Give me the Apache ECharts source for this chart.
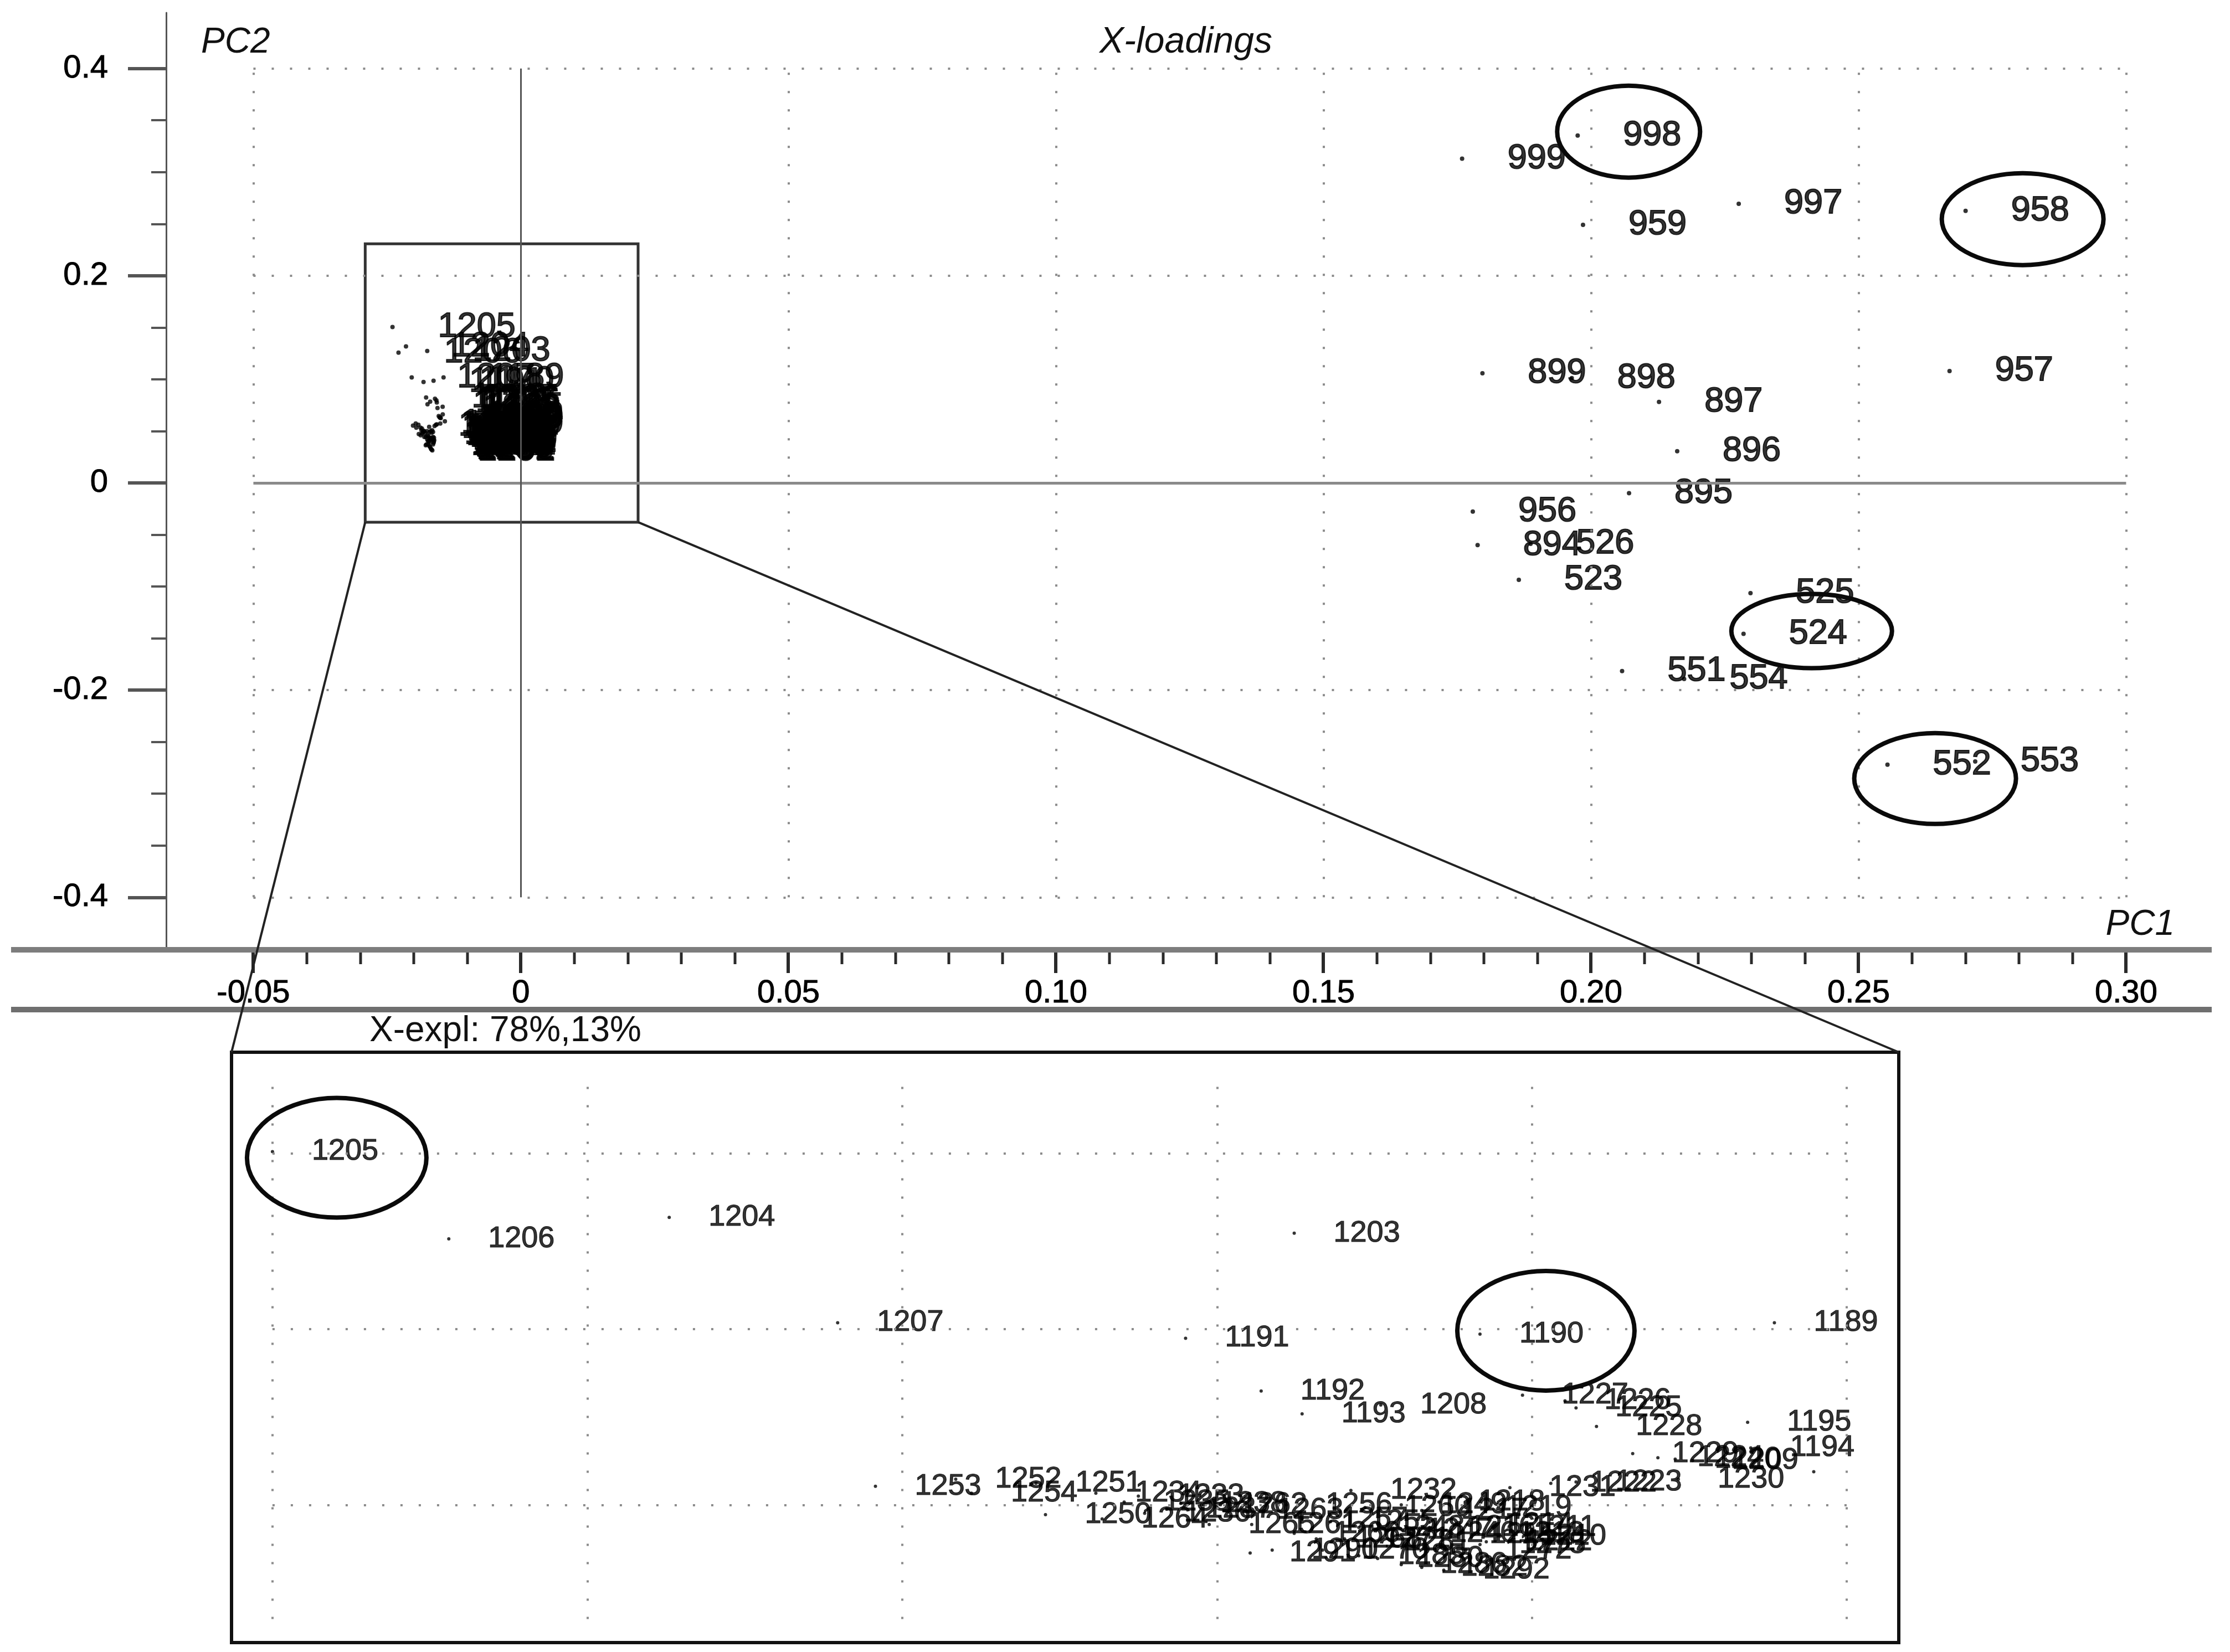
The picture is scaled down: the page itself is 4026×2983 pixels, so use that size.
<!DOCTYPE html>
<html>
<head>
<meta charset="utf-8">
<title>X-loadings</title>
<script src="https://cdn.jsdelivr.net/npm/echarts@6/dist/echarts.min.js"></script>
<style>
  html, body { margin: 0; padding: 0; background: #fff; }
  #chart { width: 4026px; height: 2983px; }
</style>
</head>
<body>
<div id="chart"></div>
<script>
// loadings of the outlying variables (PC1, PC2)
const farNames = ['999', '998', '997', '959', '958', '899', '898', '897', '896', '957', '895',
  '956', '894', '526', '523', '525', '524', '551', '554', '552', '553']
const farPC1 = [0.1759, 0.1975, 0.2276, 0.1985, 0.2700, 0.1797, 0.1964, 0.2127, 0.2161, 0.2670, 0.2071,
  0.1779, 0.1788, 0.1887, 0.1865, 0.2298, 0.2285, 0.2058, 0.2174, 0.2554, 0.2718]
const farPC2 = [0.3129, 0.3353, 0.2694, 0.2491, 0.2626, 0.1058, 0.1012, 0.0782, 0.0306, 0.1080, -0.0099,
  -0.0277, -0.0600, -0.0588, -0.0935, -0.1064, -0.1456, -0.1816, -0.1892, -0.2720, -0.2688]

// variables 1189-1292, the group that is shown again in the zoomed panel
const nearNames = ['1205', '1206', '1204', '1207', '1191', '1203', '1190', '1189',
  '1192', '1193', '1208', '1227', '1226', '1225', '1228',
  '1229', '1224', '1220', '1209', '1195', '1194', '1196',
  '1230', '1223', '1222', '1231', '1219', '1218', '1217',
  '1253', '1252', '1254', '1251', '1234', '1233', '1235',
  '1250', '1264', '1236', '1237', '1238',
  '1262', '1263', '1265', '1261', '1256', '1257',
  '1232', '1260', '1255', '1249', '1248', '1247', '1246',
  '1216', '1215', '1214', '1213', '1212', '1211', '1210',
  '1291', '1290', '1270', '1271', '1285', '1280', '1286', '1282', '1292',
  '1272', '1275', '1281', '1266', '1268']
const nearPC1 = [-0.0240, -0.02288, -0.02148, -0.02041, -0.01820, -0.01751, -0.01633, -0.01446,
  -0.01772, -0.01746, -0.01696, -0.01606, -0.01579, -0.01572, -0.01559,
  -0.01536, -0.01520, -0.01509, -0.01498, -0.01463, -0.01461, -0.01421,
  -0.01507, -0.01572, -0.01588, -0.01614, -0.01642, -0.01659, -0.01670,
  -0.02017, -0.01966, -0.01956, -0.01915, -0.01877, -0.01850, -0.01859,
  -0.01909, -0.01873, -0.01846, -0.01832, -0.01823,
  -0.01810, -0.01787, -0.01805, -0.01778, -0.01756, -0.01746,
  -0.01715, -0.01706, -0.01728, -0.01683, -0.01710, -0.01692, -0.01677,
  -0.01665, -0.01652, -0.01641, -0.01634, -0.01629, -0.01625, -0.01620,
  -0.01779, -0.01765, -0.01733, -0.01719, -0.01710, -0.01698, -0.01683, -0.01670, -0.01656,
  -0.01642, -0.01633, -0.01706, -0.01751, -0.01737]
const nearPC2 = [0.1505, 0.1257, 0.1318, 0.1018, 0.0974, 0.1273, 0.0986, 0.1018,
  0.0824, 0.0759, 0.0784, 0.0812, 0.0796, 0.0776, 0.0723,
  0.0646, 0.0634, 0.0630, 0.0626, 0.0735, 0.0662, 0.0594,
  0.0573, 0.0565, 0.0561, 0.0549, 0.0492, 0.0508, 0.0484,
  0.0553, 0.0573, 0.0533, 0.0561, 0.0533, 0.0525, 0.0508,
  0.0472, 0.0460, 0.0476, 0.0488, 0.0504,
  0.0500, 0.0484, 0.0444, 0.0444, 0.0500, 0.0460,
  0.0541, 0.0492, 0.0452, 0.0500, 0.0436, 0.0428, 0.0419,
  0.0436, 0.0415, 0.0444, 0.0419, 0.0395, 0.0436, 0.0411,
  0.0363, 0.0371, 0.0371, 0.0403, 0.0355, 0.0347, 0.0330, 0.0322, 0.0314,
  0.0371, 0.0387, 0.0395, 0.0419, 0.0403]
const unlabeled = ['1196']

// axes
const xMajor = [-0.05, 0, 0.05, 0.10, 0.15, 0.20, 0.25, 0.30]
const xMinor = [-0.04, -0.03, -0.02, -0.01, 0.01, 0.02, 0.03, 0.04, 0.06, 0.07, 0.08, 0.09,
  0.11, 0.12, 0.13, 0.14, 0.16, 0.17, 0.18, 0.19, 0.21, 0.22, 0.23, 0.24, 0.26, 0.27, 0.28, 0.29]
const yMajor = [-0.4, -0.2, 0, 0.2, 0.4]
const yMinor = [-0.35, -0.3, -0.25, -0.15, -0.1, -0.05, 0.05, 0.1, 0.15, 0.25, 0.3, 0.35]
const gridX = [-0.05, 0.05, 0.10, 0.15, 0.20, 0.25, 0.30]
const gridY = [-0.4, -0.2, 0.2, 0.4]
const insetGridX = [-0.024, -0.022, -0.020, -0.018, -0.016, -0.014]
const insetGridY = [0.05, 0.10, 0.15]

// region marked on the main plot, and the circled variables
const zoomBox = [[-0.0291, 0.2308], [0.0219, -0.0379]]
const circled = [
  { grid: 0, name: '998', dx: 92, dy: -7, rx: 129, ry: 83 },
  { grid: 0, name: '958', dx: 103, dy: 15, rx: 146, ry: 83 },
  { grid: 0, name: '524', dx: 123, dy: -5, rx: 145, ry: 67 },
  { grid: 0, name: '552', dx: 86, dy: 25, rx: 146, ry: 82 },
  { grid: 1, name: '1205', dx: 116, dy: 11, rx: 162, ry: 108 },
  { grid: 1, name: '1190', dx: 119, dy: -6, rx: 160, ry: 108 }
]

const FONT = '"Liberation Sans", Arial, sans-serif'
const INK = '#000'
const X_MIN = -0.0663, X_MAX = 0.3160, Y_MIN = -0.4506, Y_MAX = 0.4538

const farData = farNames.map((n, i) => [farPC1[i], farPC2[i], n])
const nearData = nearNames.map((n, i) => {
  const item = { value: [nearPC1[i], nearPC2[i], n] }
  if (unlabeled.includes(n)) item.label = { show: false }
  return item
})

const dotted = { color: '#8c8c8c', width: 4, type: [4, 29], cap: 'butt' }
const seg = (x1, y1, x2, y2, style) => [{ coord: [x1, y1], lineStyle: style }, { coord: [x2, y2] }]

const mainLines = [
  ...gridX.map(x => seg(x, -0.4, x, 0.4, dotted)),
  ...gridY.map(y => seg(-0.05, y, 0.30, y, dotted)),
  seg(-0.05, 0, 0.30, 0, { color: '#8a8a8a', width: 5, type: 'solid' }),
  seg(0, -0.4, 0, 0.4, { color: '#555', width: 3, type: 'solid' })
]
const insetLines = [
  ...insetGridX.map(x => seg(x, 0.0175, x, 0.1735, dotted)),
  ...insetGridY.map(y => seg(-0.024, y, -0.014, y, dotted))
]

const twoDec = v => (v === 0 ? '0' : v.toFixed(2))
const oneDec = v => (v === 0 ? '0' : v.toFixed(1))

const option = {
  animation: false,
  backgroundColor: '#fff',
  grid: [
    { left: 300, top: 23, width: 3693, height: 1692, outerBoundsMode: 'none', containLabel: false },
    { left: 418, top: 1900, width: 3010, height: 1066, outerBoundsMode: 'none', containLabel: false,
      show: true, borderColor: '#111', borderWidth: 6, backgroundColor: 'transparent' }
  ],
  xAxis: [
    {
      gridIndex: 0, type: 'value', min: X_MIN, max: X_MAX, position: 'bottom',
      axisLine: { show: false, onZero: false }, splitLine: { show: false },
      axisTick: { show: false },
      axisLabel: { customValues: xMajor, formatter: twoDec, margin: 50,
        fontSize: 58, fontFamily: FONT, color: INK, textBorderColor: '#000', textBorderWidth: 1 }
    },
    { gridIndex: 1, type: 'value', min: -0.02426, max: -0.01367, show: false,
      axisLine: { show: false, onZero: false }, splitLine: { show: false } }
  ],
  yAxis: [
    {
      gridIndex: 0, type: 'value', min: Y_MIN, max: Y_MAX, position: 'left',
      axisLine: { show: true, onZero: false, lineStyle: { color: '#555', width: 3 } },
      splitLine: { show: false },
      axisTick: { show: true, length: 69, lineStyle: { color: '#555', width: 6 }, customValues: yMajor },
      axisLabel: { customValues: yMajor, formatter: oneDec, margin: 105,
        fontSize: 58, fontFamily: FONT, color: INK, textBorderColor: '#000', textBorderWidth: 1 }
    },
    {
      gridIndex: 0, type: 'value', min: Y_MIN, max: Y_MAX, position: 'left',
      axisLine: { show: false, onZero: false }, splitLine: { show: false },
      axisTick: { show: true, length: 27, lineStyle: { color: '#555', width: 4 }, customValues: yMinor },
      axisLabel: { show: false }
    },
    { gridIndex: 1, type: 'value', min: 0.0108, max: 0.1788, show: false,
      axisLine: { show: false, onZero: false }, splitLine: { show: false } }
  ],
  series: [
    {
      type: 'scatter', xAxisIndex: 0, yAxisIndex: 0, data: [], silent: true, z: 1,
      markLine: { symbol: ['none', 'none'], silent: true, label: { show: false }, data: mainLines },
      markArea: {
        silent: true,
        itemStyle: { color: 'rgba(0,0,0,0)', borderColor: '#333', borderWidth: 5 },
        data: [[{ coord: zoomBox[0] }, { coord: zoomBox[1] }]]
      }
    },
    {
      type: 'scatter', xAxisIndex: 1, yAxisIndex: 2, data: [], silent: true, z: 1,
      markLine: { symbol: ['none', 'none'], silent: true, label: { show: false }, data: insetLines }
    },
    {
      name: 'loadings', type: 'scatter', xAxisIndex: 0, yAxisIndex: 0, z: 3,
      symbol: 'circle', symbolSize: 8, itemStyle: { color: '#000' },
      label: { show: true, position: 'right', distance: 78, formatter: p => p.value[2],
        fontSize: 63, fontFamily: FONT, color: INK, textBorderColor: '#000', textBorderWidth: 2 },
      data: [...farData, ...nearData]
    },
    {
      name: 'zoom', type: 'scatter', xAxisIndex: 1, yAxisIndex: 2, z: 3,
      symbol: 'circle', symbolSize: 6, itemStyle: { color: '#000' },
      label: { show: true, position: 'right', distance: 68, formatter: p => p.value[2],
        fontSize: 54, fontFamily: FONT, color: INK, textBorderColor: '#000', textBorderWidth: 1.2 },
      data: nearData
    }
  ]
}

const chart = echarts.init(document.getElementById('chart'))
chart.setOption(option)

// annotations that depend on the laid-out axes
const px = (g, v) => chart.convertToPixel({ gridIndex: g }, v)
const findPoint = name => {
  let i = farNames.indexOf(name)
  if (i >= 0) return [farPC1[i], farPC2[i]]
  i = nearNames.indexOf(name)
  return [nearPC1[i], nearPC2[i]]
}

const axisBottom = px(0, [0, Y_MIN])[1]
const boxBL = px(0, [zoomBox[0][0], zoomBox[1][1]])
const boxBR = px(0, [zoomBox[1][0], zoomBox[1][1]])
const insetTL = px(1, [-0.02426, 0.1788])
const insetTR = px(1, [-0.01367, 0.1788])

// PC1 ticks hang below the axis bar
const xTick = (v, len, w) => {
  const x = Math.round(px(0, [v, Y_MIN])[0])
  return { type: 'rect', z: 40, shape: { x: x - w / 2, y: axisBottom, width: w, height: len },
    style: { fill: '#2a2a2a' } }
}

const graphic = [
  { type: 'rect', z: 41, shape: { x: 20, y: axisBottom - 5, width: 3973, height: 10 },
    style: { fill: '#7d7d7d' } },
  { type: 'rect', z: 41, shape: { x: 20, y: 1818, width: 3973, height: 10 },
    style: { fill: '#6f6f6f' } },
  ...xMajor.map(v => xTick(v, 42, 6)),
  ...xMinor.map(v => xTick(v, 26, 5)),
  { type: 'line', z: 50, shape: { x1: boxBL[0], y1: boxBL[1], x2: insetTL[0], y2: insetTL[1] },
    style: { stroke: '#222', lineWidth: 4 } },
  { type: 'line', z: 50, shape: { x1: boxBR[0], y1: boxBR[1], x2: insetTR[0], y2: insetTR[1] },
    style: { stroke: '#222', lineWidth: 4 } },
  ...circled.map(c => {
    const p = px(c.grid, findPoint(c.name))
    return {
      type: 'ellipse', z: 60,
      shape: { cx: p[0] + c.dx, cy: p[1] + c.dy, rx: c.rx, ry: c.ry },
      style: { fill: null, stroke: '#0a0a0a', lineWidth: 8 }
    }
  }),
  { type: 'text', z: 60, style: { text: 'PC2', x: 363, y: 77, font: 'italic 64px ' + FONT,
    fill: '#111', align: 'left', verticalAlign: 'middle' } },
  { type: 'text', z: 60, style: { text: 'X-loadings', x: 2141, y: 77, font: 'italic 66px ' + FONT,
    fill: '#111', align: 'center', verticalAlign: 'middle' } },
  { type: 'text', z: 60, style: { text: 'PC1', x: 3926, y: 1670, font: 'italic 64px ' + FONT,
    fill: '#111', align: 'right', verticalAlign: 'middle' } },
  { type: 'text', z: 60, style: { text: 'X-expl: 78%,13%', x: 667, y: 1862, font: '64px ' + FONT,
    fill: '#111', align: 'left', verticalAlign: 'middle' } }
]
chart.setOption({ graphic })
</script>
</body>
</html>
